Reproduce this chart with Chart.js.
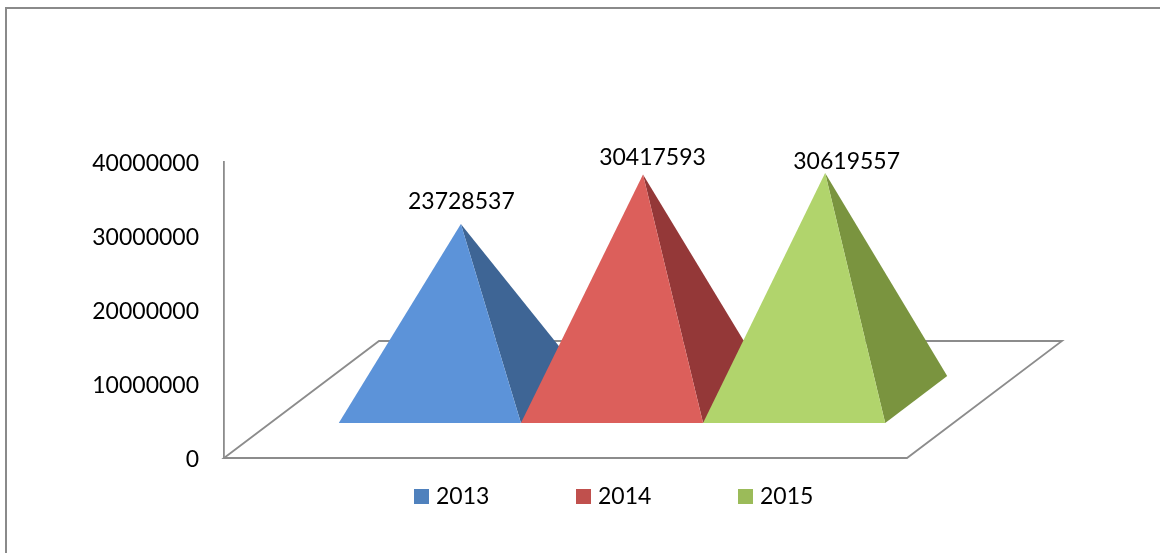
<!DOCTYPE html>
<html>
<head>
<meta charset="utf-8">
<style>
  html, body { margin: 0; padding: 0; background: #fff; }
  canvas { display: block; }
</style>
<script src="https://cdn.jsdelivr.net/npm/chart.js@4"></script>
</head>
<body>
<canvas id="pyramidChart" width="1160" height="553"></canvas>
<script>
const categories = ['Total'];
const years = ['2013', '2014', '2015'];
const values2013 = [23728537];
const values2014 = [30417593];
const values2015 = [30619557];
const seriesValues = [values2013, values2014, values2015];
const yMax = 40000000;
const yStep = 10000000;

const legendColors = ['#4F81BD', '#C0504D', '#9BBB59'];
const frontColors = ['#5C93D9', '#DC5F5B', '#B1D46C'];
const sideColors = ['#3E6595', '#943838', '#7A943F'];
const labelShift = [[0.5, -22], [9.5, -17], [21.5, -11]];

const fontName = 'Lato, sans-serif';
const fontSize = 23;
const lineGray = '#8C8C8C';

// depth of the floor and of one pyramid, in pixels
const floorDepth = { x: 155, y: 117 };
const baseFront = { x: 46.5, y: 35 };
const baseDepth = { x: 62, y: 47 };

function polygon(ctx, points, color) {
  ctx.beginPath();
  points.forEach((p, i) => i ? ctx.lineTo(p[0], p[1]) : ctx.moveTo(p[0], p[1]));
  ctx.closePath();
  ctx.fillStyle = color;
  ctx.fill();
}

const pyramidPlugin = {
  id: 'pyramids',
  beforeDraw(chart) {
    const { ctx, chartArea: a } = chart;
    ctx.save();
    // outer frame, only top and left are in the picture
    ctx.strokeStyle = '#8A8A8A';
    ctx.lineWidth = 2;
    ctx.beginPath();
    ctx.moveTo(6, chart.height);
    ctx.lineTo(6, 8);
    ctx.lineTo(chart.width, 8);
    ctx.stroke();
    // floor
    ctx.strokeStyle = lineGray;
    ctx.lineWidth = 1.8;
    ctx.beginPath();
    ctx.moveTo(a.left, a.bottom);
    ctx.lineTo(a.left + floorDepth.x, a.bottom - floorDepth.y);
    ctx.lineTo(a.right + floorDepth.x, a.bottom - floorDepth.y);
    ctx.lineTo(a.right, a.bottom);
    ctx.closePath();
    ctx.stroke();
    ctx.restore();
  },
  // chart.js paints the last dataset first, here the later years have to sit in front
  beforeDatasetsDraw(chart) {
    const { ctx } = chart;
    chart.data.datasets.forEach((ds, i) => {
      const bar = chart.getDatasetMeta(i).data[0];
      const half = bar.width / 2;
      const cx = bar.x + baseFront.x;
      const baseY = bar.base - baseFront.y;
      const apex = [cx + baseDepth.x / 2, bar.y - baseFront.y - baseDepth.y / 2];
      const frontRight = [cx + half, baseY];
      const backRight = [cx + half + baseDepth.x, baseY - baseDepth.y];
      polygon(ctx, [apex, frontRight, backRight], sideColors[i]);
      polygon(ctx, [[cx - half, baseY], frontRight, apex], frontColors[i]);
    });
  },
  beforeDatasetDraw() {
    return false;
  },
  afterDatasetsDraw(chart) {
    const { ctx } = chart;
    ctx.save();
    ctx.font = fontSize + 'px ' + fontName;
    ctx.fillStyle = '#000';
    ctx.textAlign = 'center';
    ctx.textBaseline = 'middle';
    chart.data.datasets.forEach((ds, i) => {
      const bar = chart.getDatasetMeta(i).data[0];
      const x = bar.x + baseFront.x + baseDepth.x / 2 + labelShift[i][0];
      const y = bar.y - baseFront.y - baseDepth.y / 2 + labelShift[i][1];
      ctx.fillText(String(ds.data[0]), x, y);
    });
    ctx.restore();
  },
  afterDraw(chart) {
    // legend spacing here is wider than the built-in one can do without eating the plot
    const { ctx } = chart;
    const items = Chart.defaults.plugins.legend.labels.generateLabels(chart);
    ctx.save();
    ctx.font = fontSize + 'px ' + fontName;
    ctx.textAlign = 'left';
    ctx.textBaseline = 'middle';
    items.forEach((item, i) => {
      const x = 414 + i * 162;
      ctx.fillStyle = item.fillStyle;
      ctx.fillRect(x, 489, 15, 15);
      ctx.fillStyle = '#000';
      ctx.fillText(item.text, x + 22, 497);
    });
    ctx.restore();
  }
};

new Chart(document.getElementById('pyramidChart'), {
  type: 'bar',
  data: {
    labels: categories,
    datasets: years.map((year, i) => ({
      label: year,
      data: seriesValues[i],
      backgroundColor: legendColors[i]
    }))
  },
  options: {
    responsive: false,
    animation: false,
    layout: { padding: { top: 162, bottom: 95, right: 253, left: 0 } },
    datasets: { bar: { categoryPercentage: 0.8, barPercentage: 1 } },
    plugins: { legend: { display: false }, tooltip: { enabled: false } },
    scales: {
      x: { display: false },
      y: {
        min: 0,
        max: yMax,
        grid: { display: false, drawTicks: false },
        border: { display: true, color: lineGray, width: 1.8 },
        afterFit(scale) { scale.width = 224; },
        ticks: {
          stepSize: yStep,
          padding: 25,
          labelOffset: 2,
          color: '#000',
          font: { family: fontName, size: fontSize },
          callback: v => String(v)
        }
      }
    }
  },
  plugins: [pyramidPlugin]
});
</script>
</body>
</html>
